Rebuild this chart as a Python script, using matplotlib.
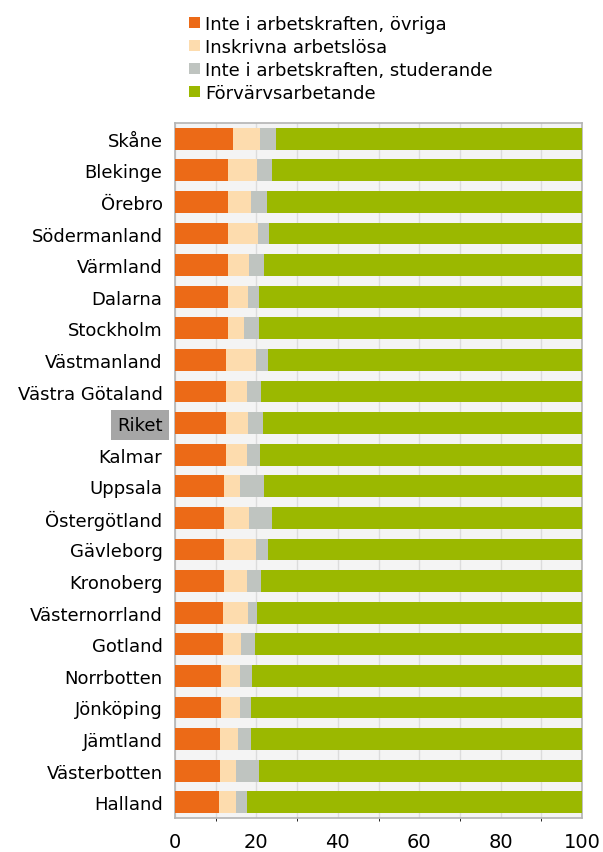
import numpy as np
import matplotlib
matplotlib.use('Agg')
import matplotlib.pyplot as plt
from matplotlib.patches import Patch

plt.rcParams['font.family'] = ['DejaVu Sans']

regions = ['Skåne', 'Blekinge', 'Örebro', 'Södermanland', 'Värmland', 'Dalarna',
           'Stockholm', 'Västmanland', 'Västra Götaland', 'Riket', 'Kalmar',
           'Uppsala', 'Östergötland', 'Gävleborg', 'Kronoberg', 'Västernorrland',
           'Gotland', 'Norrbotten', 'Jönköping', 'Jämtland', 'Västerbotten', 'Halland']

ovriga = [14.3, 13.0, 13.0, 13.0, 13.0, 13.0, 13.0, 12.6, 12.6, 12.6, 12.6,
          12.0, 12.0, 12.0, 12.0, 11.7, 11.7, 11.4, 11.4, 11.1, 11.1, 10.7]
arbetslosa = [6.5, 7.2, 5.6, 7.5, 5.3, 4.9, 4.0, 7.3, 5.0, 5.3, 5.0,
              4.0, 6.3, 7.9, 5.6, 6.2, 4.6, 4.6, 4.6, 4.5, 3.9, 4.3]
studerande = [4.0, 3.6, 3.9, 2.7, 3.6, 2.7, 3.6, 2.9, 3.6, 3.6, 3.3,
              5.9, 5.5, 2.9, 3.6, 2.3, 3.4, 2.9, 2.7, 3.1, 5.6, 2.6]
forvarv = [100 - a - b - c for a, b, c in zip(ovriga, arbetslosa, studerande)]

labels = ['Inte i arbetskraften, övriga', 'Inskrivna arbetslösa',
          'Inte i arbetskraften, studerande', 'Förvärvsarbetande']
colors = ['#ec6a17', '#fddcae', '#bfc4c0', '#9bb800']

fig = plt.figure(figsize=(6.03, 8.53), dpi=100)
ax = fig.add_axes([175 / 603, 1 - 819 / 853, 407 / 603, 695 / 853])
ax.set_facecolor('#f4f4f4')

y = np.arange(len(regions))
left = np.zeros(len(regions))
for vals, col in zip([ovriga, arbetslosa, studerande, forvarv], colors):
    ax.barh(y, vals, left=left, height=0.69, color=col, zorder=3)
    left += np.array(vals)

ax.set_xlim(0, 100)
ax.set_ylim(len(regions) - 0.5, -0.5)
ax.set_xticks(np.arange(0, 101, 20))
ax.set_xticks(np.arange(0, 101, 10), minor=True)
ax.grid(axis='x', which='both', color='#dcdcdc', linewidth=1, zorder=0)
ax.set_yticks(y)
ax.set_yticklabels(regions, fontsize=13)
ax.tick_params(axis='both', length=0)
ax.tick_params(axis='y', pad=9)
ax.tick_params(axis='x', labelsize=14, pad=10)
for s in ax.spines.values():
    s.set_color('#b4b4b4')
    s.set_linewidth(1.2)

for t in ax.get_yticklabels():
    if t.get_text() == 'Riket':
        t.set_bbox(dict(facecolor='#a6a6a6', edgecolor='none', pad=4.5))

handles = [Patch(facecolor=c) for c in colors]
fig.legend(handles, labels, loc='upper left', bbox_to_anchor=(189 / 603, 1 - 16 / 853),
           frameon=False, fontsize=13, handlelength=0.6, handleheight=0.6,
           handletextpad=0.3, labelspacing=0.27, borderaxespad=0, borderpad=0)

fig.savefig('out.png', dpi=100)
